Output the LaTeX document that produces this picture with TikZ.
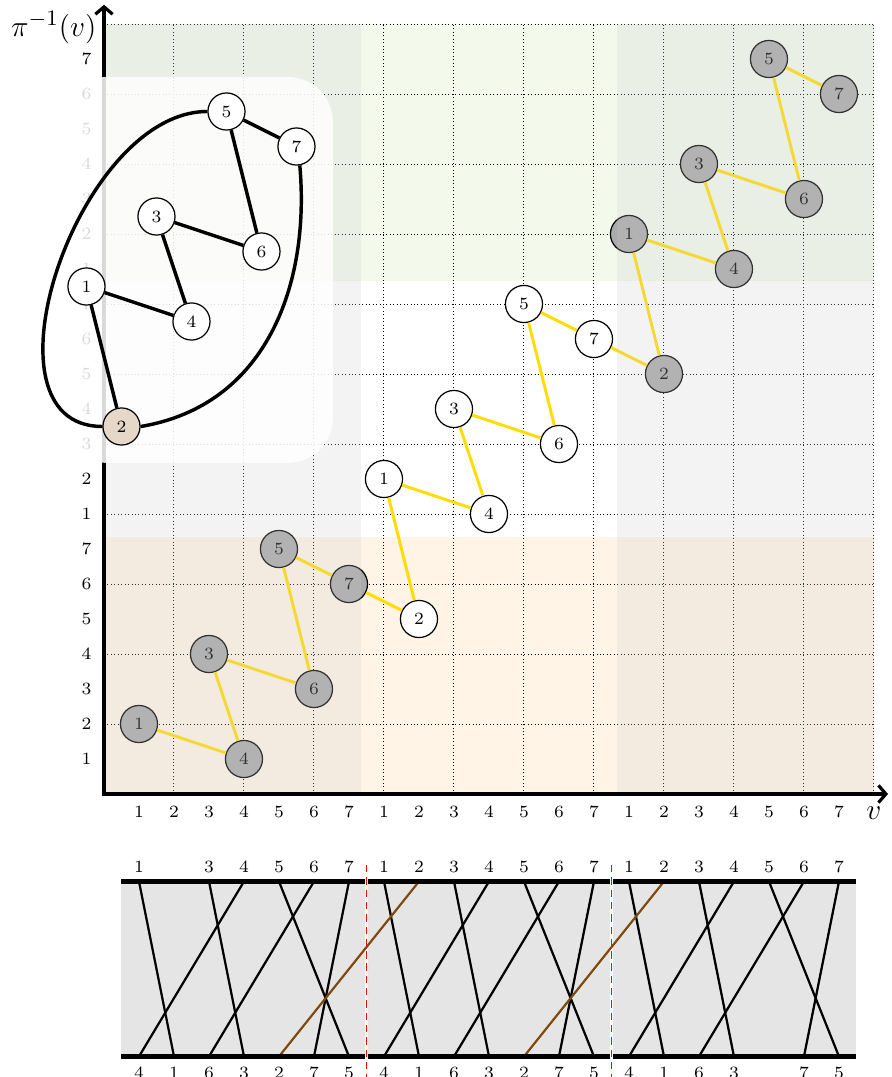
\documentclass[tikz,border=0pt]{standalone}
\usepackage{amsmath}
\usepackage{amssymb}
\usepackage{tikz}
\usetikzlibrary{arrows.meta}

\definecolor{rowsand}{HTML}{FFF4E6}
\definecolor{rowgreen}{HTML}{F3FAEC}
\definecolor{veil}{HTML}{CDCDCD}
\definecolor{edgeyellow}{HTML}{FFDD00}
\definecolor{ghostfill}{HTML}{AAAAAA}
\definecolor{rootfill}{HTML}{E5D8C8}
\definecolor{stripgray}{HTML}{E5E5E5}
\definecolor{wrapbrown}{HTML}{7F4A10}

\begin{document}
\begin{tikzpicture}[
    x=0.5cm, y=0.5cm,
    vtx/.style={
        circle,
        draw,
        fill=white,
        inner sep=0pt,
        minimum size=0.53cm,
        line width=0.5pt,
        font=\scriptsize
    },
    ghost/.style={vtx, fill=ghostfill},
    link/.style={edgeyellow, line width=1.2pt},
    ilink/.style={black, line width=1.4pt},
    rail/.style={line width=2pt},
    strand/.style={line width=0.9pt},
    tick/.style={font=\scriptsize, inner sep=0pt},
    >={Straight Barb[length=3pt,width=7pt]}
]
\useasboundingbox (-2.971,-8.086) rectangle (22.514,22.686);

\fill[rowsand] (0,0) rectangle (22,22/3);
\fill[rowgreen] (0,44/3) rectangle (22,22);
\draw[densely dotted, line width=0.4pt] (0,0) grid (22,22);

\node[ghost] (a1) at (1,2) {1};
\node[ghost] (a3) at (3,4) {3};
\node[ghost] (a4) at (4,1) {4};
\node[ghost] (a5) at (5,7) {5};
\node[ghost] (a6) at (6,3) {6};
\node[ghost] (a7) at (7,6) {7};

\node[vtx] (b1) at (8,9) {1};
\node[vtx] (b2) at (9,5) {2};
\node[vtx] (b3) at (10,11) {3};
\node[vtx] (b4) at (11,8) {4};
\node[vtx] (b5) at (12,14) {5};
\node[vtx] (b6) at (13,10) {6};
\node[vtx] (b7) at (14,13) {7};

\node[ghost] (c1) at (15,16) {1};
\node[ghost] (c2) at (16,12) {2};
\node[ghost] (c3) at (17,18) {3};
\node[ghost] (c4) at (18,15) {4};
\node[ghost] (c5) at (19,21) {5};
\node[ghost] (c6) at (20,17) {6};
\node[ghost] (c7) at (21,20) {7};

\draw[link] (a1) -- (a4);
\draw[link] (a3) -- (a4);
\draw[link] (a3) -- (a6);
\draw[link] (a5) -- (a6);
\draw[link] (a5) -- (a7);
\draw[link] (a7) -- (b2);
\draw[link] (b1) -- (b2);
\draw[link] (b1) -- (b4);
\draw[link] (b3) -- (b4);
\draw[link] (b3) -- (b6);
\draw[link] (b5) -- (b6);
\draw[link] (b5) -- (b7);
\draw[link] (b7) -- (c2);
\draw[link] (c1) -- (c2);
\draw[link] (c1) -- (c4);
\draw[link] (c3) -- (c4);
\draw[link] (c3) -- (c6);
\draw[link] (c5) -- (c6);
\draw[link] (c5) -- (c7);

\fill[veil, fill opacity=0.24] (0,0) rectangle (22/3,22);
\fill[veil, fill opacity=0.24] (44/3,0) rectangle (22,22);

\coordinate (xend) at (22.4,0);
\coordinate (yend) at (0,22.55);
\draw[<->, line width=1.3pt] (yend) |- (xend);
\node (vlabel) at (22,-0.55) {\large $v$};
\node[anchor=east, inner sep=0pt] (pilabel) at (-0.2,21.9) {\fontsize{13}{15}\selectfont $\pi^{-1}(v)$};

\foreach \k in {0,1,2} {
    \foreach \i in {1,...,7} {
        \node[tick] (xt-\k-\i) at ({7*\k+\i},-0.5) {\i};
        \node[tick] (yt-\k-\i) at (-0.5,{7*\k+\i}) {\i};
    }
}

\fill[white, fill opacity=0.85, rounded corners=0.65cm] (-1.2,9.46) rectangle (6.54,20.49);

\node[vtx] (i1) at (-0.5,14.5) {1};
\node[vtx, fill=rootfill] (i2) at (0.5,10.5) {2};
\node[vtx] (i3) at (1.5,16.5) {3};
\node[vtx] (i4) at (2.5,13.5) {4};
\node[vtx] (i5) at (3.5,19.5) {5};
\node[vtx] (i6) at (4.5,15.5) {6};
\node[vtx] (i7) at (5.5,18.5) {7};

\draw[ilink] (i1) -- (i2);
\draw[ilink] (i1) -- (i4);
\draw[ilink] (i3) -- (i4);
\draw[ilink] (i3) -- (i6);
\draw[ilink] (i5) -- (i6);
\draw[ilink] (i5) -- (i7);
\draw[ilink] (i2.west) to[out=180, in=180] (i5.west);
\draw[ilink] (i7.-80) .. controls +(0.3,-3.4) and +(3.6,0.6) .. (i2.east);

\foreach \l/\r in {0.5/7.45, 7.55/14.45, 14.55/21.5} {
    \fill[stripgray] (\l,-2.5) rectangle (\r,-7.5);
}
\foreach \i in {1,...,21} {
    \coordinate (t\i) at (\i,-2.5);
    \coordinate (b\i) at (\i,-7.5);
}
\foreach \k in {0,7,14} {
    \foreach \u/\w in {1/2, 3/4, 4/1, 5/7, 6/3, 7/6} {
        \pgfmathtruncatemacro\s{\k+\u}
        \pgfmathtruncatemacro\e{\k+\w}
        \draw[strand] (t\s) -- (b\e);
    }
}
\draw[strand, wrapbrown] (t9) -- (b5);
\draw[strand, wrapbrown] (t16) -- (b12);
\foreach \l/\r in {0.5/7.45, 7.55/14.45, 14.55/21.5} {
    \draw[rail] (\l,-2.5) -- (\r,-2.5);
    \draw[rail] (\l,-7.5) -- (\r,-7.5);
}

\foreach \i in {1,3,4,...,21} {
    \pgfmathtruncatemacro\v{mod(\i-1,7)+1}
    \node[tick] (tl\i) at (\i,-2.08) {\v};
}
\foreach \k in {0,7,14} {
    \foreach \p/\v in {1/4, 2/1, 3/6, 4/3, 5/2, 6/7, 7/5} {
        \pgfmathtruncatemacro\s{\k+\p}
        \ifnum\s=19\else
            \node[tick] (bl\s) at (\s,-7.97) {\v};
        \fi
    }
}

\coordinate (cut1top) at (7.5,-2.03);
\coordinate (cut1bot) at (7.5,-8.3);
\coordinate (cut2top) at (14.5,-2.03);
\coordinate (cut2bot) at (14.5,-8.3);
\draw[red, line width=0.6pt, dash pattern=on 3pt off 2pt] (cut1top) -- (cut1bot);
\draw[red, line width=0.6pt, dash pattern=on 3pt off 2pt] (cut2top) -- (cut2bot);

\end{tikzpicture}
\end{document}
